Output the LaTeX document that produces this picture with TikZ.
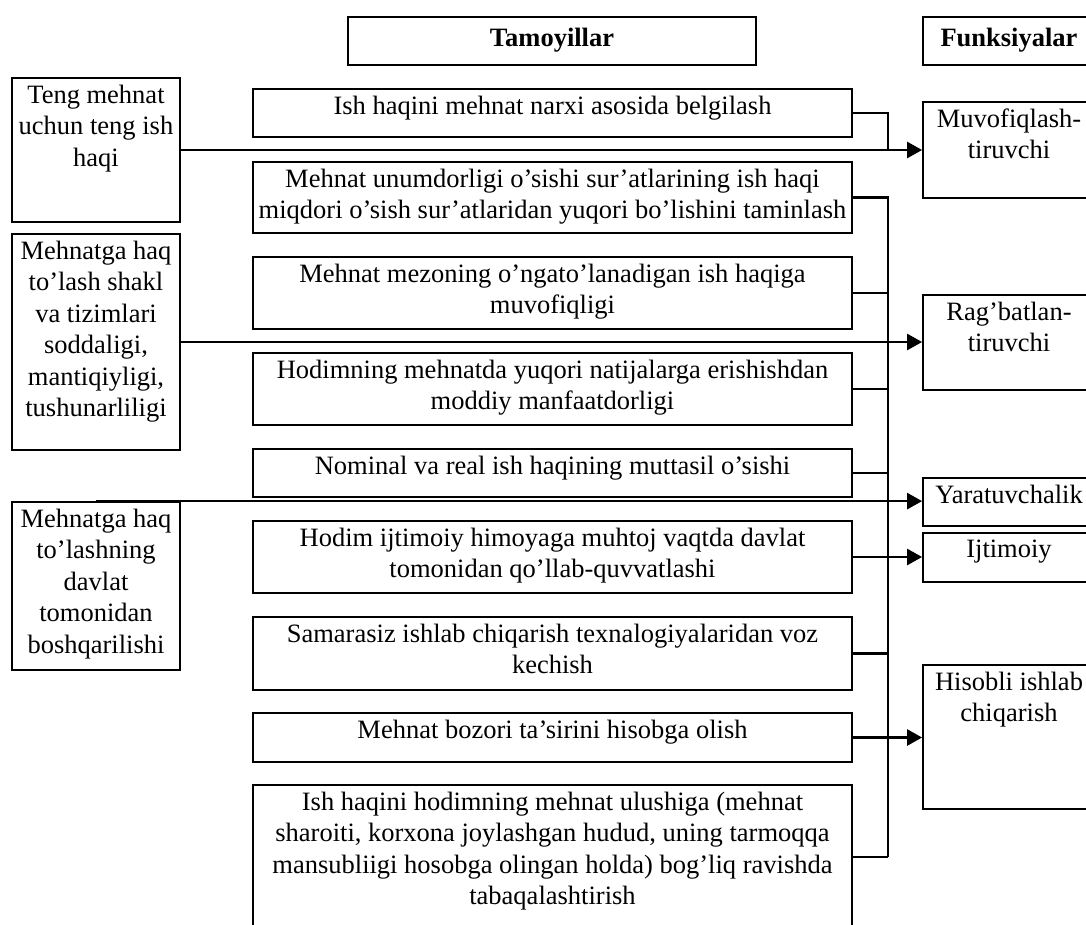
\documentclass[tikz,border=0pt]{standalone}
\usepackage{fontspec}
\setmainfont{Liberation Serif}
\usepackage{tikz}
\usetikzlibrary{arrows.meta, positioning}
\newcommand{\txtfont}{\fontsize{26.5}{31.5}\selectfont}
\tikzstyle{arrow}=[-{Triangle[length=15pt, width=16pt]}, line width=2.6pt, color=black]
\tikzstyle{link}=[line width=2.6pt, color=black]

\begin{document}
\begin{tikzpicture}[x=1pt, y=-1pt,
  box/.style={rectangle, draw=black, line width=1.8pt, inner sep=0pt},
  lbox/.style={box, minimum width=168pt},
  mbox/.style={box, minimum width=599pt},
  rbox/.style={box, minimum width=172pt},
  txt/.style={align=center, font=\txtfont, inner xsep=0pt, inner ysep=7.5pt},
  head/.style={txt, inner ysep=12pt}
]
\useasboundingbox (0,0) rectangle (1086,924);
\clip (0,0) rectangle (1086,924);
\fill[white] (0,0) rectangle (1086,924);

% Headers
\node[box, minimum width=408pt, minimum height=48pt] (tamoy) at (552,41) {};
\node[head, below=0pt of tamoy.north] (tamoyt) {\textbf{Tamoyillar}};
\node[rbox, minimum height=48pt] (funk) at (1009,41) {};
\node[head, below=0pt of funk.north] (funkt) {\textbf{Funksiyalar}};

% Left column
\node[lbox, minimum height=144pt] (l1) at (96,150) {};
\node[txt, below=0pt of l1.north] (l1t) {Teng mehnat\\uchun teng ish\\haqi};
\node[lbox, minimum height=216pt] (l2) at (96,342) {};
\node[txt, below=0pt of l2.north] (l2t) {Mehnatga haq\\to’lash shakl\\va tizimlari\\soddaligi,\\mantiqiyligi,\\tushunarliligi};
\node[lbox, minimum height=168pt] (l3) at (96,586) {};
\node[txt, below=0pt of l3.north] (l3t) {Mehnatga haq\\to’lashning\\davlat\\tomonidan\\boshqarilishi};

% Middle column: principles
\node[mbox, minimum height=48pt] (m1) at (552.5,113) {};
\node[txt, below=0pt of m1.north] (m1t) {Ish haqini mehnat narxi asosida belgilash};
\node[mbox, minimum height=71pt] (m2) at (552.5,197.5) {};
\node[txt, below=0pt of m2.north] (m2t) {Mehnat unumdorligi o’sishi sur’atlarining ish haqi\\miqdori o’sish sur’atlaridan yuqori bo’lishini taminlash};
\node[mbox, minimum height=72pt] (m3) at (552.5,293) {};
\node[txt, below=0pt of m3.north] (m3t) {Mehnat mezoning o’ngato’lanadigan ish haqiga\\muvofiqligi};
\node[mbox, minimum height=72pt] (m4) at (552.5,389) {};
\node[txt, below=0pt of m4.north] (m4t) {Hodimning mehnatda yuqori natijalarga erishishdan\\moddiy manfaatdorligi};
\node[mbox, minimum height=48pt] (m5) at (552.5,473) {};
\node[txt, below=0pt of m5.north] (m5t) {Nominal va real ish haqining muttasil o’sishi};
\node[mbox, minimum height=72pt] (m6) at (552.5,557) {};
\node[txt, below=0pt of m6.north] (m6t) {Hodim ijtimoiy himoyaga muhtoj vaqtda davlat\\tomonidan qo’llab-quvvatlashi};
\node[mbox, minimum height=73pt] (m7) at (552.5,653.5) {};
\node[txt, below=0pt of m7.north] (m7t) {Samarasiz ishlab chiqarish texnalogiyalaridan voz\\kechish};
\node[mbox, minimum height=49pt] (m8) at (552.5,737.5) {};
\node[txt, below=0pt of m8.north] (m8t) {Mehnat bozori ta’sirini hisobga olish};
\node[mbox, minimum height=144pt] (m9) at (552.5,857) {};
\node[txt, below=0pt of m9.north] (m9t) {Ish haqini hodimning mehnat ulushiga (mehnat\\sharoiti, korxona joylashgan hudud, uning tarmoqqa\\mansubliigi hosobga olingan holda) bog’liq ravishda\\tabaqalashtirish};

% Right column: functions
\node[rbox, minimum height=96pt] (r1) at (1009,150) {};
\node[txt, below=0pt of r1.north] (r1t) {Muvofiqlash-\\tiruvchi};
\node[rbox, minimum height=95pt] (r2) at (1009,342.5) {};
\node[txt, below=0pt of r2.north] (r2t) {Rag’batlan-\\tiruvchi};
\node[rbox, minimum height=48pt] (r3) at (1009,502) {};
\node[txt, below=0pt of r3.north] (r3t) {Yaratuvchalik};
\node[rbox, minimum height=49pt] (r4) at (1009,557.5) {};
\node[txt, below=0pt of r4.north] (r4t) {Ijtimoiy};
\node[rbox, minimum height=144pt] (r5) at (1009,737) {};
\node[txt, below=0pt of r5.north] (r5t) {Hisobli ishlab\\chiqarish};

% Collecting line
\coordinate (bus) at (888,0);
\draw[link] (m1.east) -| (bus |- l1.east);
\draw[link] (m2.east) -| (bus |- m9.east);
\foreach \m in {m3,m4,m5,m7,m9}
  \draw[link] (\m.east) -- (bus |- \m.east);

% Arrows to functions
\draw[arrow] (l1.east) -- (r1.west);
\draw[arrow] (l2.east) -- (l2.east -| r2.west);
\draw[arrow] (l3.north) -- (l3.north -| r3.west);
\draw[arrow] (m6.east) -- (m6.east -| r4.west);
\draw[arrow] (m8.east) -- (m8.east -| r5.west);
\end{tikzpicture}
\end{document}
